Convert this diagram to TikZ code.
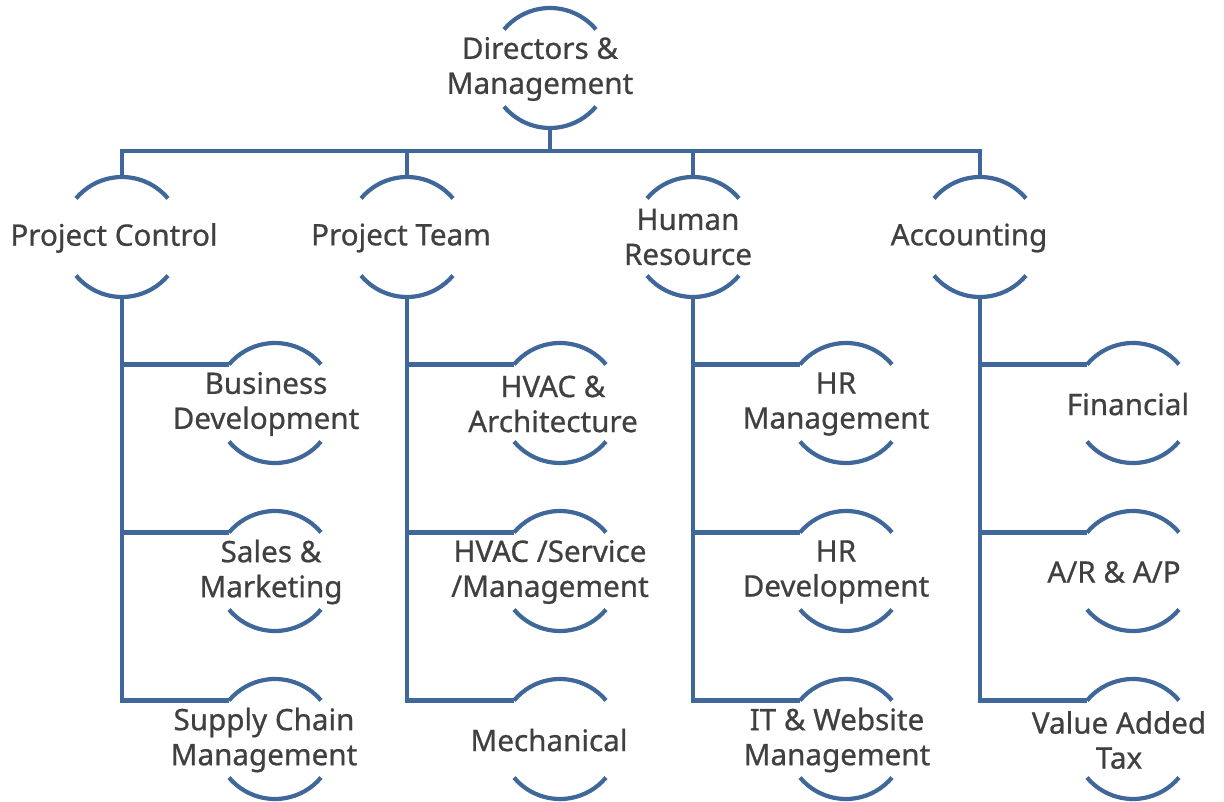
\documentclass[tikz,border=0pt]{standalone}
\usepackage{fontspec}
\setmainfont{Noto Sans}
\newfontfamily\lblfont{Noto Sans}[FakeBold=0.7]
\definecolor{linec}{RGB}{63,103,154}
\definecolor{textc}{RGB}{64,64,64}
\begin{document}
\begin{tikzpicture}[x=1pt,y=-1pt,
  ring/.style={circle,minimum size=120pt,inner sep=0pt,outer sep=0pt},
  lbl/.style={text=textc,align=center,font=\lblfont\fontsize{29.6pt}{35pt}\selectfont,inner sep=0pt},
  conn/.style={draw=linec,line width=4.2pt}]
\useasboundingbox (0,0) rectangle (1224,802);
% ring nodes (centers)
\node[ring] (top) at (550,68) {};
\node[ring] (pc) at (122,237) {};
\node[ring] (pt) at (407,237) {};
\node[ring] (hr) at (693,237) {};
\node[ring] (acc) at (980,237) {};
\node[ring] (bd) at (275,403) {};
\node[ring] (sm) at (275,571) {};
\node[ring] (sc) at (275,739) {};
\node[ring] (ha) at (560,403) {};
\node[ring] (hs) at (560,571) {};
\node[ring] (me) at (560,739) {};
\node[ring] (hrm) at (846,403) {};
\node[ring] (hrd) at (846,571) {};
\node[ring] (it) at (846,739) {};
\node[ring] (fi) at (1133,403) {};
\node[ring] (ar) at (1133,571) {};
\node[ring] (va) at (1133,739) {};
% arcs
\foreach \n in {top,pc,pt,hr,acc,bd,sm,sc,ha,hs,me,hrm,hrd,it,fi,ar,va}{
  \draw[conn] (\n.40) arc[start angle=40,end angle=140,radius=60pt];
  \draw[conn] (\n.220) arc[start angle=220,end angle=320,radius=60pt];
}
% labels
\node[lbl] (ltop) at (540,69) {Directors \&\\Management};
\node[lbl] (lpc) at (114,238) {Project Control};
\node[lbl] (lpt) at (401,238) {Project Team};
\node[lbl] (lhr) at (688,237) {Human\\Resource};
\node[lbl] (lacc) at (969,238) {Accounting};
\node[lbl] (lbd) at (266,404) {Business\\Development};
\node[lbl] (lsm) at (271,572) {Sales \&\\Marketing};
\node[lbl] (lsc) at (264,740) {Supply Chain\\Management};
\node[lbl] (lha) at (553,404) {HVAC \&\\Architecture};
\node[lbl] (lhs) at (550,572) {HVAC /Service\\/Management};
\node[lbl] (lme) at (549,740) {Mechanical};
\node[lbl] (lhrm) at (836,404) {HR\\Management};
\node[lbl] (lhrd) at (836,572) {HR\\Development};
\node[lbl] (lit) at (837,740) {IT \& Website\\Management};
\node[lbl] (lfi) at (1128,404) {Financial};
\node[lbl] (lar) at (1114,572) {A/R \& A/P};
\node[lbl] (lva) at (1119,740) {Value Added\\Tax};
% connectors
\coordinate (bar) at (550,151);
\draw[conn] (top.south) -- (top.south |- bar);
\draw[conn,line cap=rect] (pc.north) -- (pc.north |- bar) -- (acc.north |- bar) -- (acc.north);
\draw[conn] (pt.north) -- (pt.north |- bar);
\draw[conn] (hr.north) -- (hr.north |- bar);
\foreach \p/\a/\b/\c in {pc/bd/sm/sc,pt/ha/hs/me,hr/hrm/hrd/it,acc/fi/ar/va}{
  \draw[conn] (\p.south) |- (\c.140);
  \draw[conn] (\p.south |- \a.140) -- (\a.140);
  \draw[conn] (\p.south |- \b.140) -- (\b.140);
}
\end{tikzpicture}
\end{document}
